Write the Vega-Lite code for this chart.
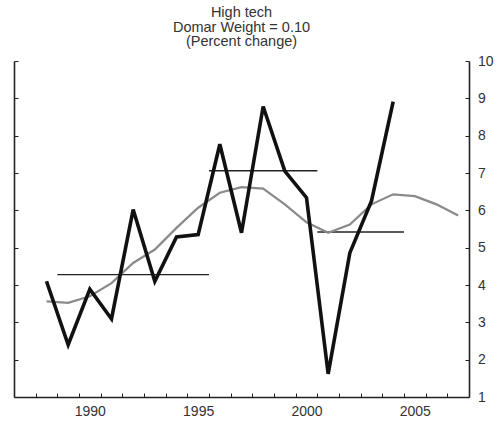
{
  "$schema": "https://vega.github.io/schema/vega-lite/v6.json",
  "autosize": "none",
  "width": 455,
  "height": 336,
  "padding": {"left": 14, "top": 61, "right": 34, "bottom": 26},
  "background": "white",
  "config": {
    "view": {"stroke": null},
    "font": "Liberation Sans",
    "axis": {"grid": false, "domainColor": "#222", "domainWidth": 1.6, "tickColor": "#222", "tickWidth": 1, "labelFont": "Liberation Sans", "labelFontSize": 14, "labelColor": "#333", "title": null, "labelOverlap": false, "labelFlush": false},
    "axisX": {"labelOverlap": false}
  },
  "title": {
    "text": ["High tech", "Domar Weight = 0.10", "(Percent change)"],
    "anchor": "middle",
    "frame": "group",
    "font": "Liberation Sans",
    "fontSize": 14.5,
    "fontWeight": "normal",
    "color": "#333",
    "lineHeight": 14.8,
    "offset": 4
  },
  "datasets": {
    "actual": [
      {"year": 1988, "value": 4.10},
      {"year": 1989, "value": 2.40},
      {"year": 1990, "value": 3.89},
      {"year": 1991, "value": 3.09},
      {"year": 1992, "value": 6.02},
      {"year": 1993, "value": 4.10},
      {"year": 1994, "value": 5.29},
      {"year": 1995, "value": 5.35},
      {"year": 1996, "value": 7.77},
      {"year": 1997, "value": 5.40},
      {"year": 1998, "value": 8.78},
      {"year": 1999, "value": 7.05},
      {"year": 2000, "value": 6.34},
      {"year": 2001, "value": 1.62},
      {"year": 2002, "value": 4.86},
      {"year": 2003, "value": 6.25},
      {"year": 2004, "value": 8.91}
    ],
    "trend": [
      {"year": 1988, "value": 3.56},
      {"year": 1989, "value": 3.52},
      {"year": 1990, "value": 3.70},
      {"year": 1991, "value": 4.05},
      {"year": 1992, "value": 4.59},
      {"year": 1993, "value": 4.95},
      {"year": 1994, "value": 5.53},
      {"year": 1995, "value": 6.07},
      {"year": 1996, "value": 6.47},
      {"year": 1997, "value": 6.62},
      {"year": 1998, "value": 6.58},
      {"year": 1999, "value": 6.16},
      {"year": 2000, "value": 5.68},
      {"year": 2001, "value": 5.40},
      {"year": 2002, "value": 5.62},
      {"year": 2003, "value": 6.16},
      {"year": 2004, "value": 6.43},
      {"year": 2005, "value": 6.38},
      {"year": 2006, "value": 6.16},
      {"year": 2007, "value": 5.86}
    ],
    "means": [
      {"start": 1988.5, "end": 1995.5, "value": 4.28},
      {"start": 1995.5, "end": 2000.5, "value": 7.06},
      {"start": 2000.5, "end": 2004.5, "value": 5.42}
    ]
  },
  "resolve": {"scale": {"y": "shared", "x": "shared"}, "axis": {"y": "independent"}},
  "layer": [
    {
      "data": {"name": "means"},
      "mark": {"type": "rule", "color": "#222", "strokeWidth": 1.3},
      "encoding": {
        "x": {"field": "start", "type": "quantitative", "scale": {"domain": [1986.5, 2007.5], "nice": false, "zero": false},
          "axis": {"orient": "bottom", "values": [1987.5, 1988.5, 1989.5, 1990.5, 1991.5, 1992.5, 1993.5, 1994.5, 1995.5, 1996.5, 1997.5, 1998.5, 1999.5, 2000.5, 2001.5, 2002.5, 2003.5, 2004.5, 2005.5, 2006.5],
            "labelExpr": "(datum.value + 0.5) % 5 === 0 ? toString(datum.value + 0.5) : ''",
            "labelOffset": 10.83, "labelOverlap": false, "labelFlush": false, "tickSize": -4, "labelPadding": 11}},
        "x2": {"field": "end"},
        "y": {"field": "value", "type": "quantitative", "scale": {"domain": [1, 10], "nice": false, "zero": false}, "axis": null}
      }
    },
    {
      "data": {"name": "trend"},
      "mark": {"type": "line", "color": "#8a8a8a", "strokeWidth": 2.2},
      "encoding": {
        "x": {"field": "year", "type": "quantitative",
          "axis": {"orient": "bottom", "values": [1987.5, 1988.5, 1989.5, 1990.5, 1991.5, 1992.5, 1993.5, 1994.5, 1995.5, 1996.5, 1997.5, 1998.5, 1999.5, 2000.5, 2001.5, 2002.5, 2003.5, 2004.5, 2005.5, 2006.5],
            "labelExpr": "(datum.value + 0.5) % 5 === 0 ? toString(datum.value + 0.5) : ''",
            "labelOffset": 10.83, "labelOverlap": false, "labelFlush": false, "tickSize": -4, "labelPadding": 11}},
        "y": {"field": "value", "type": "quantitative",
          "axis": {"orient": "right", "values": [1, 2, 3, 4, 5, 6, 7, 8, 9, 10], "tickSize": -4, "labelPadding": 12.5, "labelOverlap": false, "labelFlush": false}}
      }
    },
    {
      "data": {"name": "actual"},
      "mark": {"type": "line", "color": "#111", "strokeWidth": 3.6, "strokeJoin": "miter"},
      "encoding": {
        "x": {"field": "year", "type": "quantitative",
          "axis": {"orient": "bottom", "values": [1987.5, 1988.5, 1989.5, 1990.5, 1991.5, 1992.5, 1993.5, 1994.5, 1995.5, 1996.5, 1997.5, 1998.5, 1999.5, 2000.5, 2001.5, 2002.5, 2003.5, 2004.5, 2005.5, 2006.5],
            "labelExpr": "(datum.value + 0.5) % 5 === 0 ? toString(datum.value + 0.5) : ''",
            "labelOffset": 10.83, "labelOverlap": false, "labelFlush": false, "tickSize": -4, "labelPadding": 11}},
        "y": {"field": "value", "type": "quantitative",
          "axis": {"orient": "left", "values": [1, 2, 3, 4, 5, 6, 7, 8, 9, 10], "labels": false, "tickSize": -4}}
      }
    }
  ]
}
